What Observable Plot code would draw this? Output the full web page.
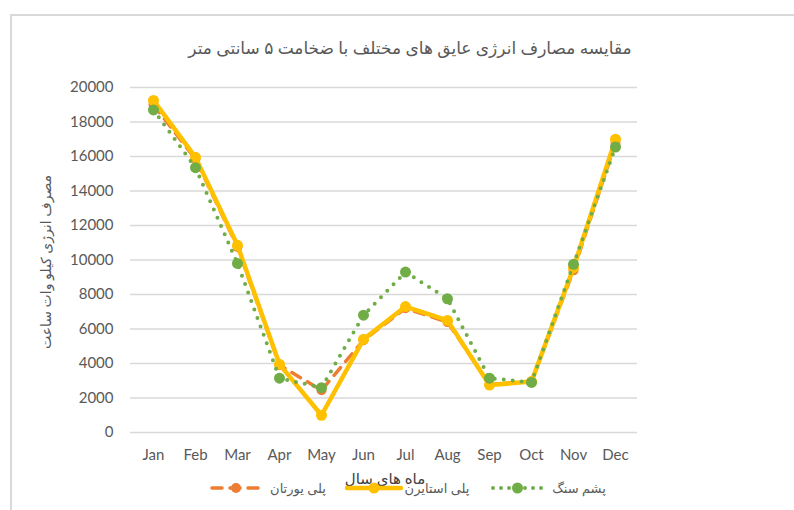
<!DOCTYPE html>
<html>
<head>
<meta charset="utf-8">
<script src="https://cdn.jsdelivr.net/npm/d3@7"></script>
<script src="https://cdn.jsdelivr.net/npm/@observablehq/plot@0.6"></script>
<style>
  html, body { margin: 0; padding: 0; background: #ffffff; }
  #wrap { position: relative; width: 794px; height: 510px; overflow: hidden; background: #fff; }
  #frame { position: absolute; left: 10px; top: 14px; width: 800px; height: 520px; border: 2px solid #d9d9d9; box-sizing: border-box; }
  #wrap svg { position: absolute; left: 0; top: 0; }
</style>
</head>
<body>
<div id="wrap"><div id="frame"></div></div>
<script>
// ---- data ----
const months = ["Jan","Feb","Mar","Apr","May","Jun","Jul","Aug","Sep","Oct","Nov","Dec"];
const polyurethane = [19000, 15850, 10750, 3900, 2450, 5350, 7200, 6400, 2800, 2950, 9400, 16800];
const polystyrene  = [19250, 15950, 10850, 3950, 1000, 5400, 7300, 6500, 2750, 2950, 9550, 17000];
const rockwool     = [18700, 15350, 9800, 3150, 2600, 6800, 9300, 7750, 3150, 2900, 9750, 16550];
const yTicks = [0, 2000, 4000, 6000, 8000, 10000, 12000, 14000, 16000, 18000, 20000];

const seriesNames = ["پلی یورتان", "پلی استایرن", "پشم سنگ"];
const titleText = "مقایسه مصارف انرژی عایق های مختلف با ضخامت ۵ سانتی متر";
const yTitle = "مصرف انرژی کیلو وات ساعت";
const xTitle = "ماه های سال";

const colors = ["#ED7D31", "#FFC000", "#70AD47"];

const toRows = vals => months.map((m, i) => ({month: m, value: vals[i]}));
const puRows = toRows(polyurethane);
const psRows = toRows(polystyrene);
const rwRows = toRows(rockwool);

const font = "Lato, 'DejaVu Sans', sans-serif";

const chart = Plot.plot({
  width: 794,
  height: 510,
  marginLeft: 130,
  marginRight: 157,
  marginTop: 87,
  marginBottom: 78,
  style: {fontFamily: font, fontSize: "15px", color: "#595959", background: "transparent", overflow: "visible"},
  x: {type: "point", domain: months, padding: 0.5, label: null},
  y: {domain: [0, 20000], label: null},
  marks: [
    Plot.ruleY(yTicks, {stroke: "#d9d9d9", strokeWidth: 1.3}),
    Plot.axisX({tickSize: 0, tickPadding: 17, label: null, fill: "#595959"}),
    Plot.axisY({ticks: yTicks, tickSize: 0, tickPadding: 17, label: null, tickFormat: d => String(d), fill: "#595959"}),
    // polyurethane (dashed)
    Plot.line(puRows, {x: "month", y: "value", stroke: colors[0], strokeWidth: 3.5, strokeDasharray: "10,8", strokeLinecap: "round", strokeLinejoin: "round"}),
    Plot.dot(puRows, {x: "month", y: "value", r: 5, fill: colors[0]}),
    // polystyrene (solid)
    Plot.line(psRows, {x: "month", y: "value", stroke: colors[1], strokeWidth: 4.5, strokeLinejoin: "round"}),
    Plot.dot(psRows, {x: "month", y: "value", r: 5.5, fill: colors[1]}),
    // rock wool (dotted)
    Plot.line(rwRows, {x: "month", y: "value", stroke: colors[2], strokeWidth: 4, strokeDasharray: "0,9", strokeLinecap: "round", strokeLinejoin: "round"}),
    Plot.dot(rwRows, {x: "month", y: "value", r: 5.5, fill: colors[2]})
  ]
});

const wrap = document.getElementById("wrap");
wrap.appendChild(chart);

// ---- overlay: titles and legend ----
const ov = d3.select(wrap).append("svg")
  .attr("width", 794).attr("height", 510)
  .style("font-family", font);

ov.append("text")
  .attr("x", 410).attr("y", 48).attr("dy", "0.35em")
  .attr("text-anchor", "middle").attr("direction", "rtl")
  .attr("fill", "#595959").attr("font-size", 17)
  .text(titleText);

ov.append("text")
  .attr("transform", "translate(46,262) rotate(-90)")
  .attr("dy", "0.35em")
  .attr("text-anchor", "middle").attr("direction", "rtl")
  .attr("fill", "#595959").attr("font-size", 14)
  .text(yTitle);

ov.append("text")
  .attr("x", 385).attr("y", 479).attr("dy", "0.35em")
  .attr("text-anchor", "middle").attr("direction", "rtl")
  .attr("fill", "#404040").attr("font-size", 15)
  .text(xTitle);

// legend
const legend = [
  {x0: 212, x1: 260, tx: 298, dash: "10,8", w: 3.5, r: 5},
  {x0: 347, x1: 401, tx: 437, dash: null, w: 4.5, r: 5.5},
  {x0: 493, x1: 542, tx: 579, dash: "0,8", w: 4, r: 5.5}
];
const ly = 488;
legend.forEach((l, i) => {
  const line = ov.append("line")
    .attr("x1", l.x0).attr("x2", l.x1).attr("y1", ly).attr("y2", ly)
    .attr("stroke", colors[i]).attr("stroke-width", l.w)
    .attr("stroke-linecap", "round");
  if (l.dash) line.attr("stroke-dasharray", l.dash);
  ov.append("circle").attr("cx", (l.x0 + l.x1) / 2).attr("cy", ly).attr("r", l.r).attr("fill", colors[i]);
  ov.append("text")
    .attr("x", l.tx).attr("y", ly).attr("dy", "0.35em")
    .attr("text-anchor", "middle").attr("direction", "rtl")
    .attr("fill", "#595959").attr("font-size", 13)
    .text(seriesNames[i]);
});
</script>
</body>
</html>
